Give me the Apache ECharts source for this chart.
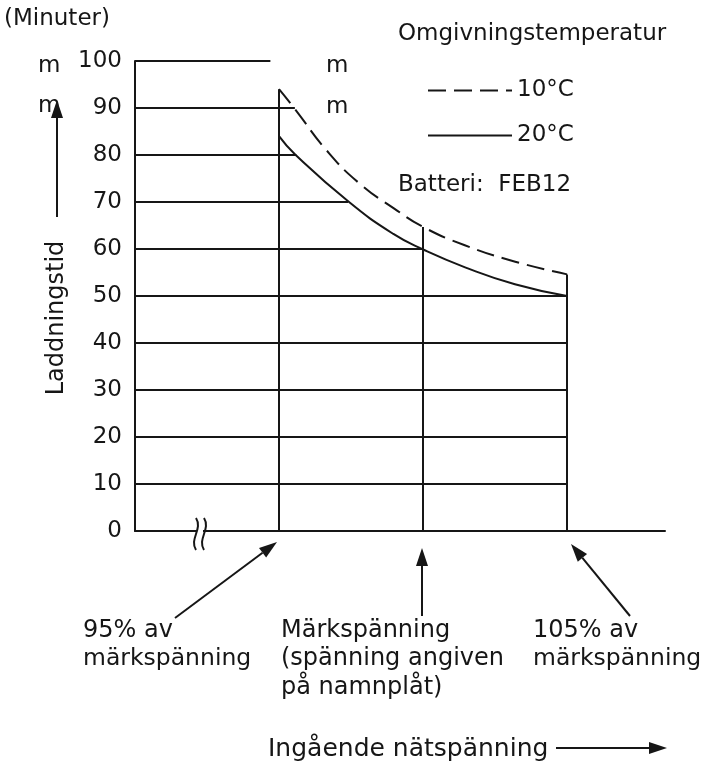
<!DOCTYPE html>
<html>
<head>
<meta charset="utf-8">
<script src="https://cdn.jsdelivr.net/npm/echarts@6/dist/echarts.min.js"></script>
<style>
  html, body { margin: 0; padding: 0; background: #fff; }
</style>
</head>
<body>
<div id="main" style="width: 709px;height:764px;"></div>
<script type="text/javascript">
    // kurvor (x = % av märkspänning, y = minuter)
    var volt10 = [95, 95.55, 96.65, 97.8, 99, 100, 101.45, 103.2, 105];
    var tid10 = [94, 89.8, 81, 73.9, 68.6, 64.7, 60.8, 57.3, 54.6];
    var volt20 = [95, 95.56, 97.41, 98.97, 100, 101.46, 103.19, 105];
    var tid20 = [84, 80.1, 70.1, 63.2, 59.9, 56.1, 52.5, 50];

    // rutnätslinjer: nivå och var linjen slutar (x)
    var gridLevels = [100, 90, 80, 70, 60, 50, 40, 30, 20, 10];
    var gridEnds = [94.7, 95.55, 95.6, 97.4, 100, 105, 105, 105, 105, 105];

    // lodräta linjer vid 95 %, 100 %, 105 %
    var markVolts = [95, 100, 105];
    var markTops = [94, 64.7, 54.6];

    var yTicks = [0, 10, 20, 30, 40, 50, 60, 70, 80, 90, 100];

    var FONT = '"DejaVu Sans", sans-serif';
    var INK = '#161616';

    function pairs(xs, ys) {
        var out = [];
        for (var i = 0; i < xs.length; i++) out.push([xs[i], ys[i]]);
        return out;
    }

    var lines = [];
    for (var i = 0; i < gridLevels.length; i++) {
        lines.push([{coord: [90, gridLevels[i]]}, {coord: [gridEnds[i], gridLevels[i]]}]);
    }
    for (var j = 0; j < markVolts.length; j++) {
        lines.push([{coord: [markVolts[j], 0]}, {coord: [markVolts[j], markTops[j]]}]);
    }

    function txt(s, x, y, size, align) {
        return {
            type: 'text', x: x, y: y, silent: true,
            style: {
                text: s, fill: INK, font: (size || 23) + 'px ' + FONT,
                textAlign: align || 'left', textVerticalAlign: 'middle'
            }
        };
    }

    function arrow(x1, y1, x2, y2) {
        var a = Math.atan2(y2 - y1, x2 - x1);
        var L = 18, W = 6;
        var bx = x2 - L * Math.cos(a), by = y2 - L * Math.sin(a);
        return [
            {type: 'line', silent: true, shape: {x1: x1, y1: y1, x2: bx, y2: by},
                style: {stroke: INK, lineWidth: 2}},
            {type: 'polygon', silent: true,
                shape: {points: [[x2, y2], [bx + W * Math.sin(a), by - W * Math.cos(a)],
                    [bx - W * Math.sin(a), by + W * Math.cos(a)]]},
                style: {fill: INK}}
        ];
    }

    // brytmarkering på x-axeln
    function wave(x) {
        return {type: 'bezierCurve', silent: true, z: 10,
            shape: {x1: x, y1: 518, cpx1: x + 7, cpy1: 529, cpx2: x - 7, cpy2: 539, x2: x, y2: 550},
            style: {stroke: INK, lineWidth: 2, fill: null}};
    }

    var graphics = [
        txt('(Minuter)', 4, 19),
        txt('m', 38, 66), txt('m', 38, 106),
        txt('m', 326, 66), txt('m', 326, 107),
        txt('Omgivningstemperatur', 398, 34),
        txt('Batteri:  FEB12', 398, 185),
        txt('95% av', 83, 631, 24), txt('märkspänning', 83, 659, 23.5),
        txt('Märkspänning', 281, 631, 24), txt('(spänning angiven', 281, 659, 24), txt('på namnplåt)', 281, 688, 24),
        txt('105% av', 533, 631, 24), txt('märkspänning', 533, 659, 23.5),
        txt('Ingående nätspänning', 268, 749, 25),
        {
            type: 'text', x: 57, y: 318, rotation: Math.PI / 2, silent: true,
            style: {text: 'Laddningstid', fill: INK, font: '24px ' + FONT,
                textAlign: 'center', textVerticalAlign: 'middle'}
        },
        {type: 'rect', silent: true, z: 9, shape: {x: 197, y: 527, width: 6, height: 8},
            style: {fill: '#fff'}},
        wave(196), wave(204)
    ];
    graphics = graphics
        .concat(arrow(57, 217, 57, 100))
        .concat(arrow(175, 618, 277, 542))
        .concat(arrow(422, 616, 422, 548))
        .concat(arrow(630, 616, 571, 544))
        .concat(arrow(556, 748, 667, 748));

    var myChart = echarts.init(document.getElementById('main'));
    var option = {
        animation: false,
        backgroundColor: '#fff',
        grid: {left: 135, right: 44, top: 61, bottom: 233},
        legend: {
            data: ['10°C', '20°C'],
            orient: 'vertical',
            left: 422, top: 74,
            itemWidth: 84, itemHeight: 20, itemGap: 22,
            itemStyle: {opacity: 0},
            textStyle: {fontFamily: FONT, fontSize: 23, color: INK},
            selectedMode: false
        },
        xAxis: {
            type: 'value', min: 90, max: 108.4,
            axisLine: {show: true, lineStyle: {color: INK, width: 2}},
            axisTick: {show: false},
            axisLabel: {show: false},
            splitLine: {show: false}
        },
        yAxis: {
            type: 'value', min: yTicks[0], max: yTicks[yTicks.length - 1], interval: 10,
            axisLine: {show: true, lineStyle: {color: INK, width: 2}},
            axisTick: {show: false},
            axisLabel: {fontFamily: FONT, fontSize: 23, color: INK, margin: 13},
            splitLine: {show: false}
        },
        series: [
            {
                name: '10°C', type: 'line', smooth: 0.5, symbol: 'none', clip: false,
                data: pairs(volt10, tid10),
                lineStyle: {color: INK, width: 2, type: [18, 8]},
                itemStyle: {color: INK}
            },
            {
                name: '20°C', type: 'line', smooth: 0.5, symbol: 'none', clip: false,
                data: pairs(volt20, tid20),
                lineStyle: {color: INK, width: 2, type: 'solid'},
                itemStyle: {color: INK},
                markLine: {
                    silent: true, symbol: ['none', 'none'],
                    label: {show: false},
                    lineStyle: {color: INK, width: 2, type: 'solid'},
                    data: lines
                }
            }
        ],
        graphic: graphics
    };
    myChart.setOption(option);
</script>
</body>
</html>
